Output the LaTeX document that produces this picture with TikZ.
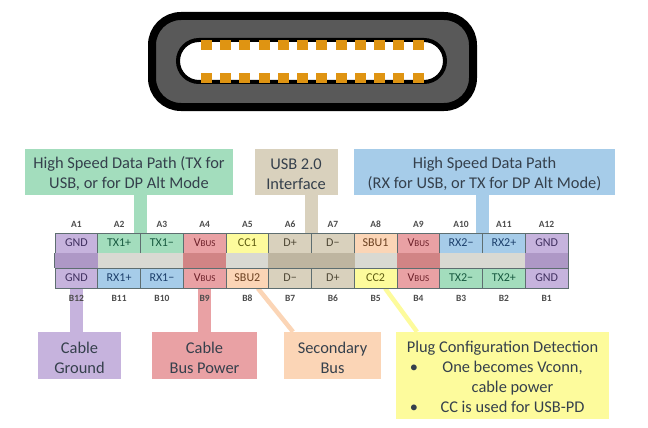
\documentclass[tikz,border=0pt]{standalone}
\usepackage{fontspec}
\usetikzlibrary{backgrounds}
\setmainfont{Carlito}
\definecolor{cgreen}{HTML}{A3DDBD}
\definecolor{ctan}{HTML}{D9D1BD}
\definecolor{cblue}{HTML}{A6CCE9}
\definecolor{cpurple}{HTML}{C6B3DD}
\definecolor{cred}{HTML}{E9A1A4}
\definecolor{cpeach}{HTML}{FBD5B6}
\definecolor{cyellow}{HTML}{FDFB9C}
\definecolor{cgrey}{HTML}{D9D9D2}
\definecolor{dpurple}{HTML}{AE98C6}
\definecolor{dred}{HTML}{D18485}
\definecolor{dtan}{HTML}{BEB5A0}
\definecolor{tgreen}{HTML}{17593F}
\definecolor{tblue}{HTML}{1C3F6B}
\definecolor{tpurple}{HTML}{40305F}
\definecolor{tred}{HTML}{6B1F28}
\definecolor{tbrown}{HTML}{6B4020}
\definecolor{tolive}{HTML}{5C5A10}
\definecolor{ttan}{HTML}{4F4836}
\definecolor{tbox}{HTML}{35404C}
\definecolor{cborder}{HTML}{5E6E70}
\definecolor{cbody}{HTML}{595959}
\definecolor{cpin}{HTML}{DF9412}
\newcommand{\vbusname}{V{\fontsize{9}{9}\selectfont BUS}}
\newcommand{\lift}{\rule{0pt}{16pt}}
\newcommand{\pincell}[7]{%
  \node[cellbox,fill=#4,text=#5] (#1) at (#6,#7) {#2};
  \node[pinlabel] (lbl#1) at (#6,#3) {#1};}
\tikzset{
  cellbox/.style={draw=cborder,line width=0.7pt,minimum width=42.75pt,minimum height=20pt,inner sep=0pt,font=\fontsize{12}{13}\selectfont},
  pinlabel/.style={inner sep=0pt,text=black!70,font=\fontsize{9.5}{11}\selectfont\bfseries},
  infobox/.style={inner sep=0pt,align=center,text=tbox,font=\fontsize{16.4}{20}\selectfont},
  stem/.style={line width=13pt},
  diag/.style={line width=4.5pt},
}
\begin{document}
\begin{tikzpicture}[x=1pt,y=-1pt]
\useasboundingbox (0,0) rectangle (648,428);
% plug
\draw[line width=8pt,draw=black,fill=cbody,rounded corners=29pt] (152,16) rectangle (473,107);
\draw[line width=4pt,draw=black,fill=white,rounded corners=21pt] (178,40) rectangle (445,82);
\foreach \k in {0,...,11}{
  \fill[cpin] (200.7+19.27*\k,40) rectangle ++(11,10);
  \fill[cpin] (200.7+19.27*\k,73) rectangle ++(11,10);
}
% info boxes
\node[infobox,fill=cgreen,minimum width=208pt,minimum height=46pt] (green) at (129,172) {\lift High Speed Data Path (TX for\\USB, or for DP Alt Mode};
\node[infobox,fill=ctan,minimum width=83pt,minimum height=46pt] (tan) at (296,172) {\lift USB 2.0\\Interface};
\node[infobox,fill=cblue,minimum width=261pt,minimum height=46pt] (blue) at (484.5,172) {\lift High Speed Data Path\\(RX for USB, or TX for DP Alt Mode)};
\node[infobox,fill=cpurple,minimum width=83pt,minimum height=47pt] (ground) at (79.5,355.5) {\lift Cable\\Ground};
\node[infobox,fill=cred,minimum width=105pt,minimum height=47pt] (power) at (204.5,355.5) {\lift Cable\\Bus Power};
\node[infobox,fill=cpeach,minimum width=97pt,minimum height=47pt] (second) at (332.5,355.5) {\lift Secondary\\Bus};
\node[infobox,fill=cyellow,minimum width=213pt,minimum height=87pt] (plugcfg) at (502.5,375.5) {%
  \begin{tabular}{@{}p{20pt}@{}c@{}}
  \multicolumn{2}{@{}c@{}}{\rule{0pt}{20pt}Plug Configuration Detection}\\
  \hspace{3pt}\textbullet & \makebox[140pt]{One becomes Vconn,}\\
  & cable power\\
  \hspace{3pt}\textbullet & CC is used for USB-PD
  \end{tabular}};
% top row
\pincell{A1}{GND}{224}{cpurple}{tpurple}{76.4}{243}
\pincell{A2}{TX1+}{224}{cgreen}{tgreen}{119.1}{243}
\pincell{A3}{TX1−}{224}{cgreen}{tgreen}{161.9}{243}
\pincell{A4}{\vbusname}{224}{cred}{tred}{204.6}{243}
\pincell{A5}{CC1}{224}{cyellow}{tolive}{247.4}{243}
\pincell{A6}{D+}{224}{ctan}{ttan}{290.1}{243}
\pincell{A7}{D−}{224}{ctan}{ttan}{332.9}{243}
\pincell{A8}{SBU1}{224}{cpeach}{tbrown}{375.6}{243}
\pincell{A9}{\vbusname}{224}{cred}{tred}{418.4}{243}
\pincell{A10}{RX2−}{224}{cblue}{tblue}{461.1}{243}
\pincell{A11}{RX2+}{224}{cblue}{tblue}{503.9}{243}
\pincell{A12}{GND}{224}{cpurple}{tpurple}{546.6}{243}
% bottom row
\pincell{B12}{GND}{298}{cpurple}{tpurple}{76.4}{278}
\pincell{B11}{RX1+}{298}{cblue}{tblue}{119.1}{278}
\pincell{B10}{RX1−}{298}{cblue}{tblue}{161.9}{278}
\pincell{B9}{\vbusname}{298}{cred}{tred}{204.6}{278}
\pincell{B8}{SBU2}{298}{cpeach}{tbrown}{247.4}{278}
\pincell{B7}{D−}{298}{ctan}{ttan}{290.1}{278}
\pincell{B6}{D+}{298}{ctan}{ttan}{332.9}{278}
\pincell{B5}{CC2}{298}{cyellow}{tolive}{375.6}{278}
\pincell{B4}{\vbusname}{298}{cred}{tred}{418.4}{278}
\pincell{B3}{TX2−}{298}{cgreen}{tgreen}{461.1}{278}
\pincell{B2}{TX2+}{298}{cgreen}{tgreen}{503.9}{278}
\pincell{B1}{GND}{298}{cpurple}{tpurple}{546.6}{278}
% middle band
\fill[cgrey] (A1.south west) rectangle (B1.north east);
\fill[dpurple] (A1.south west) rectangle (B12.north east);
\fill[dpurple] (A12.south west) rectangle (B1.north east);
\fill[dred] (A4.south west) rectangle (B9.north east);
\fill[dred] (A9.south west) rectangle (B4.north east);
\fill[dtan] (A6.south west) rectangle (B6.north east);
\draw[cborder,line width=0.7pt] (A1.south west) -- (B12.north west) (A12.south east) -- (B1.north east);
% connectors, behind the pin labels
\begin{pgfonlayer}{background}
\draw[stem,cgreen] (green.south -| A2.north east) -- (A2.north east);
\draw[stem,ctan] (tan.south -| A6.north east) -- (A6.north east);
\draw[stem,cblue] (blue.south -| A10.north east) -- (A10.north east);
\draw[stem,cpurple] (B12.south) -- (B12.south |- ground.north);
\draw[stem,cred] (B9.south) -- (B9.south |- power.north);
\coordinate (peachtop) at ([xshift=10.5pt]B8.south);
\coordinate (peachend) at ([xshift=-39.5pt]second.north);
\coordinate (yeltop) at ([xshift=9.5pt]B5.south);
\coordinate (yelend) at ([xshift=-85.5pt]plugcfg.north);
\draw[diag,cpeach] (peachtop) -- (peachend);
\draw[diag,cyellow] (yeltop) -- (yelend);
\end{pgfonlayer}
\end{tikzpicture}
\end{document}
